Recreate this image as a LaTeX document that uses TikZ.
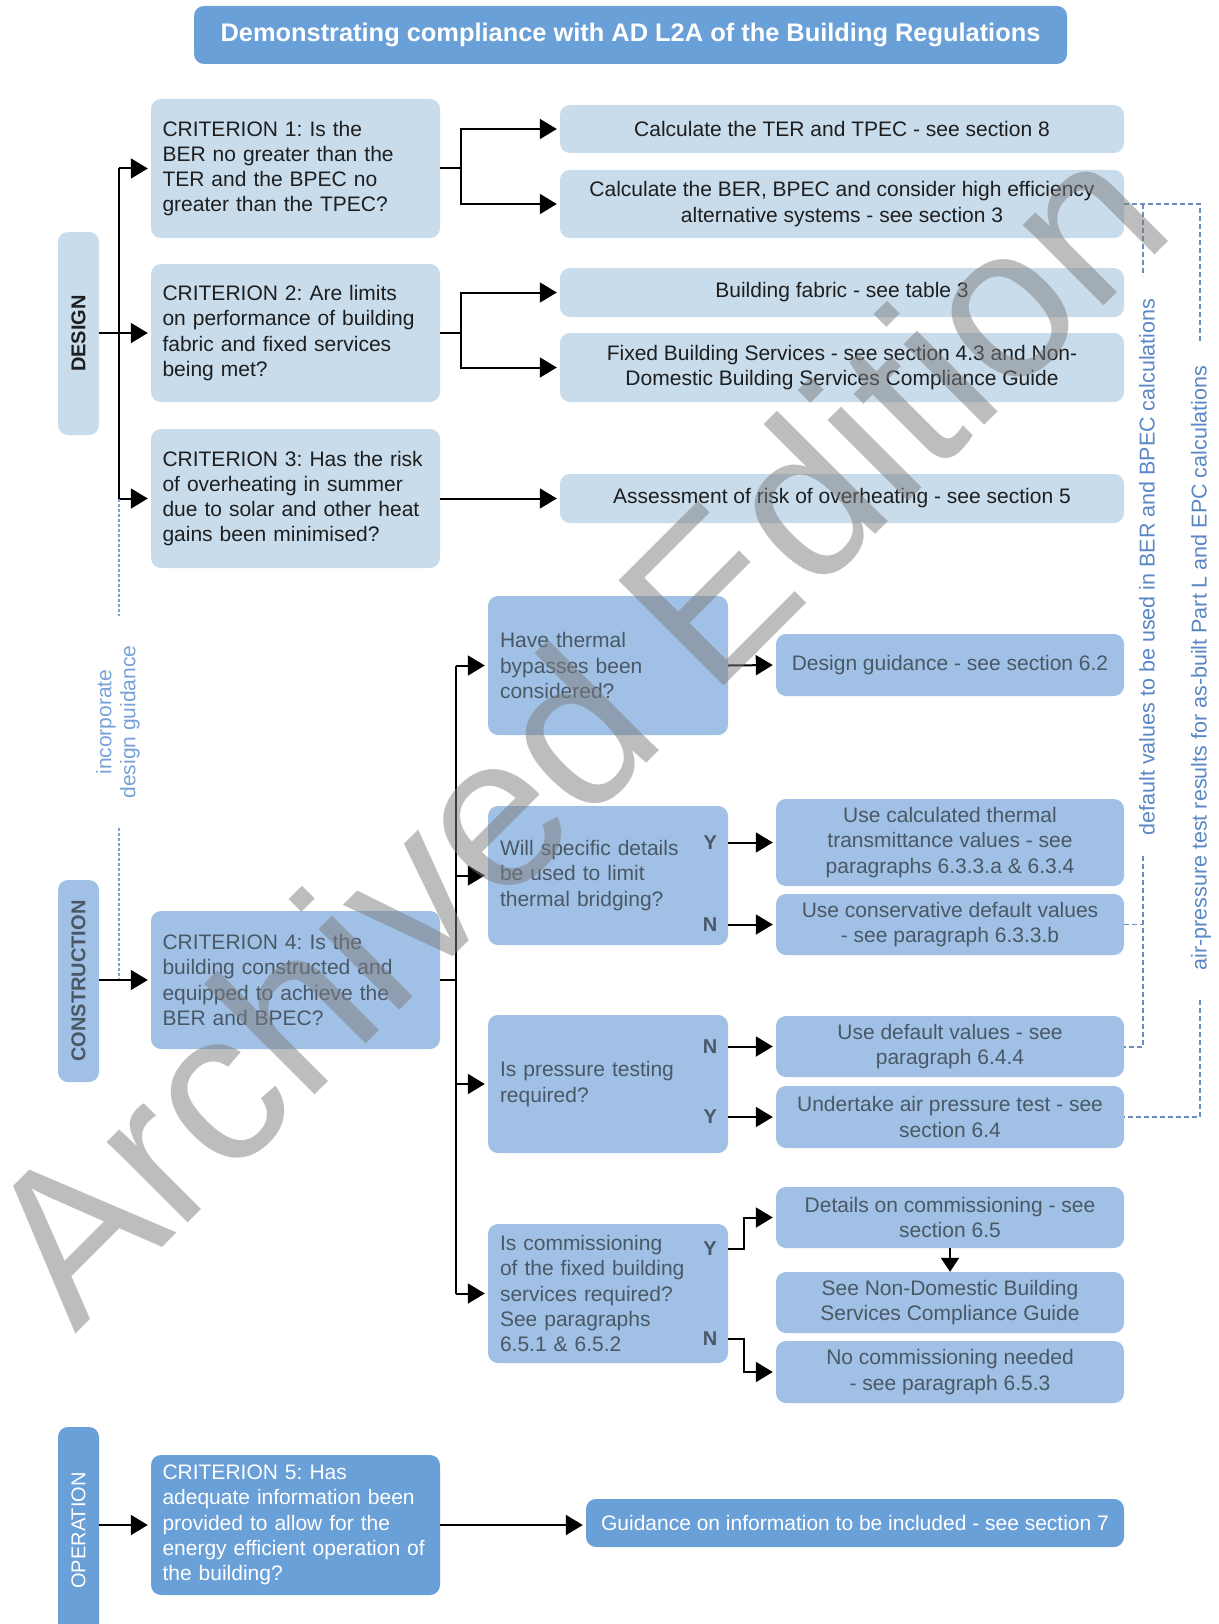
\documentclass[tikz,border=0pt]{standalone}
\usepackage{fontspec}
\usepackage{graphicx}
\setmainfont{Liberation Sans}
\frenchspacing
\usetikzlibrary{arrows.meta,calc}
\definecolor{lightbox}{RGB}{201,220,236}
\definecolor{midbox}{RGB}{160,193,229}
\definecolor{darkbox}{RGB}{106,160,216}
\definecolor{midtext}{RGB}{74,88,102}
\definecolor{darktxt}{RGB}{30,30,30}
\definecolor{dashblue}{RGB}{110,140,190}
\definecolor{sidetext}{RGB}{90,135,198}
\definecolor{sidetextb}{RGB}{120,162,215}
\definecolor{wmgray}{RGB}{125,125,125}
\newcommand{\bx}[7]{\node[#1, minimum width={#5-#3}, minimum height={#6-#4}] (#2) at ({(#3+#5)/2},{(#4+#6)/2}) {#7};}
\begin{document}
\begin{tikzpicture}[x=1pt,y=-1pt,
  box/.style={rounded corners=10pt, inner sep=0pt, align=center, font=\fontsize{21}{25.2}\selectfont},
  lt/.style={box, fill=lightbox, text=darktxt},
  md/.style={box, fill=midbox, text=midtext},
  dk/.style={box, fill=darkbox, text=white},
  crit/.style={align=left, text width=266pt, inner xsep=11.5pt},
  cons/.style={align=left, text width=216pt, inner xsep=12pt},
  lab/.style={rounded corners=10pt, inner sep=0pt, font=\fontsize{20}{20}\selectfont},
  arr/.style={line width=2pt, -{Triangle[length=17pt,width=20pt]}, shorten >=3pt},
  ln/.style={line width=2pt},
  yn/.style={font=\fontsize{20}{20}\selectfont\bfseries, text=midtext, inner sep=0pt},
  dsh/.style={draw=dashblue, line width=1.6pt, dash pattern=on 5pt off 3pt},
  dots/.style={draw=sidetextb, line width=1.8pt, dash pattern=on 3pt off 2pt},
  side/.style={font=\fontsize{21.5}{24}\selectfont, text=sidetext, rotate=90, inner sep=0pt},
]
\fill[white] (0,0) rectangle (1218,1624);
\useasboundingbox (0,0) rectangle (1218,1624);

% title
\bx{dk,font=\fontsize{25.4}{30}\selectfont\bfseries}{title}{194}{6}{1067}{64}{Demonstrating compliance with AD L2A of the Building Regulations}

% phase labels
\bx{lab,fill=lightbox,text=darktxt}{design}{58}{232}{99}{435}{\rotatebox{90}{\bfseries DESIGN}}
\bx{lab,fill=midbox,text=midtext}{construction}{58}{880}{99}{1082}{\rotatebox{90}{\bfseries CONSTRUCTION}}
\bx{lab,fill=darkbox,text=white}{operation}{58}{1427}{99}{1634}{\rotatebox{90}{OPERATION}}

% criteria
\bx{lt,crit}{crit1}{151}{99}{440}{238}{CRITERION 1: Is the\\BER no greater than the\\TER and the BPEC no\\greater than the TPEC?}
\bx{lt,crit}{crit2}{151}{264}{440}{402}{CRITERION 2: Are limits\\on performance of building\\fabric and fixed services\\being met?}
\bx{lt,crit}{crit3}{151}{429}{440}{568}{CRITERION 3: Has the risk\\of overheating in summer\\due to solar and other heat\\gains been minimised?}
\bx{md,crit}{crit4}{151}{911}{440}{1049}{CRITERION 4: Is the\\building constructed and\\equipped to achieve the\\BER and BPEC?}
\bx{dk,crit}{crit5}{151}{1455}{440}{1595}{CRITERION 5: Has\\adequate information been\\provided to allow for the\\energy efficient operation of\\the building?}

% design outcomes
\bx{lt}{ter}{560}{105}{1124}{153}{Calculate the TER and TPEC - see section 8}
\bx{lt}{ber}{560}{170}{1124}{238}{Calculate the BER, BPEC and consider high efficiency\\alternative systems - see section 3}
\bx{lt}{fabric}{560}{268}{1124}{317}{Building fabric - see table 3}
\bx{lt}{fixed}{560}{333}{1124}{402}{Fixed Building Services - see section 4.3 and Non-\\Domestic Building Services Compliance Guide}
\bx{lt}{assess}{560}{474}{1124}{523}{Assessment of risk of overheating - see section 5}

% construction questions
\bx{md,cons}{bypass}{488}{596}{728}{735}{Have thermal\\bypasses been\\considered?}
\bx{md,cons}{bridging}{488}{806}{728}{945}{Will specific details\\be used to limit\\thermal bridging?}
\bx{md,cons}{pressure}{488}{1015}{728}{1153}{Is pressure testing\\required?}
\bx{md,cons}{comm}{488}{1224}{728}{1363}{Is commissioning\\of the fixed building\\services required?\\See paragraphs\\6.5.1 \& 6.5.2}

% construction outcomes
\bx{md}{dg}{776}{634}{1124}{696}{Design guidance - see section 6.2}
\bx{md}{calc}{776}{799}{1124}{886}{Use calculated thermal\\transmittance values - see\\paragraphs 6.3.3.a \& 6.3.4}
\bx{md}{conserv}{776}{894}{1124}{955}{Use conservative default values\\- see paragraph 6.3.3.b}
\bx{md}{default}{776}{1016}{1124}{1077}{Use default values - see\\paragraph 6.4.4}
\bx{md}{undertake}{776}{1086}{1124}{1148}{Undertake air pressure test - see\\section 6.4}
\bx{md}{details}{776}{1187}{1124}{1248}{Details on commissioning - see\\section 6.5}
\bx{md}{seendb}{776}{1272}{1124}{1333}{See Non-Domestic Building\\Services Compliance Guide}
\bx{md}{nocomm}{776}{1341}{1124}{1403}{No commissioning needed\\- see paragraph 6.5.3}

% operation outcome
\bx{dk}{guidance}{586}{1499}{1124}{1547}{Guidance on information to be included - see section 7}

% design connectors
\coordinate (dx) at (119,0);
\draw[ln] (dx |- crit1.west) -- (dx |- crit3.west);
\draw[arr] (design.east |- crit2.west) -- (crit2.west);
\draw[arr] (dx |- crit1.west) -- (crit1.west);
\draw[arr] (dx |- crit3.west) -- (crit3.west);

\draw[ln] (crit1.east) -- ++(21,0) coordinate (c1j);
\draw[arr] (c1j) |- (ter.west);
\draw[arr] (c1j) |- (ber.west);
\draw[ln] (crit2.east) -- ++(21,0) coordinate (c2j);
\draw[arr] (c2j) |- (fabric.west);
\draw[arr] (c2j) |- (fixed.west);
\draw[arr] (crit3.east) -- (assess.west |- crit3.east);

% incorporate design guidance
\coordinate (dg1) at (119,616);
\coordinate (dg2) at (119,828);
\draw[dots] (dx |- crit3.west) -- (dg1);
\node[side, text=sidetextb, align=center, font=\fontsize{21}{24}\selectfont] (incorp) at (118,722) {incorporate\\design guidance};
\draw[dots] (dg2) -- (dx |- crit4.west);
\draw[arr] (construction.east |- crit4.west) -- (crit4.west);

% construction connectors
\draw[ln] (crit4.east) -- ++(16,0) coordinate (c4j);
\draw[ln] (c4j |- bypass.west) -- (c4j |- comm.west);
\draw[arr] (c4j |- bypass.west) -- (bypass.west);
\draw[arr] (c4j |- bridging.west) -- (bridging.west);
\draw[arr] (c4j |- pressure.west) -- (pressure.west);
\draw[arr] (c4j |- comm.west) -- (comm.west);

\draw[arr] (bypass.east) -- (dg.west);

\node[yn] (y1) at ($(bridging.east |- calc.west)+(-18,0)$) {Y};
\node[yn] (n1) at ($(bridging.east |- conserv.west)+(-18,0)$) {N};
\draw[arr] (bridging.east |- calc.west) -- (calc.west);
\draw[arr] (bridging.east |- conserv.west) -- (conserv.west);

\node[yn] (n2) at ($(pressure.east |- default.west)+(-18,0)$) {N};
\node[yn] (y2) at ($(pressure.east |- undertake.west)+(-18,0)$) {Y};
\draw[arr] (pressure.east |- default.west) -- (default.west);
\draw[arr] (pressure.east |- undertake.west) -- (undertake.west);

\coordinate (cY) at (728,1249);
\coordinate (cN) at (728,1339);
\node[yn] (y3) at ($(cY)+(-18,0)$) {Y};
\node[yn] (n3) at ($(cN)+(-18,0)$) {N};
\draw[arr] (cY) -- ++(16,0) |- (details.west);
\draw[arr] (cN) -- ++(16,0) |- (nocomm.west);
\draw[line width=2pt, -{Triangle[length=14pt,width=18pt]}] (details.south) -- (seendb.north);

% operation connectors
\draw[arr] (operation.east |- crit5.west) -- (crit5.west);
\draw[arr] (crit5.east) -- (guidance.west |- crit5.east);

% dashed brackets
\coordinate (otop) at (1200,204);
\coordinate (itop) at (1143,204);
\coordinate (ia) at (1143,276);
\coordinate (ib) at (1143,856);
\coordinate (ic) at (1143,1047);
\coordinate (oa) at (1200,342);
\coordinate (ob) at (1200,1000);
\coordinate (oc) at (1200,1117);
\draw[dsh] (ber.east) -- (otop) -- (oa);
\draw[dsh] (itop) -- (ia);
\node[side] (defv) at (1147,567) {default values to be used in BER and BPEC calculations};
\draw[dsh] (ib) -- (ic) -- (default.east |- ic);
\draw[dsh] (conserv.east) -- (ib |- conserv.east);
\node[side] (airp) at (1201,668) {air-pressure test results for as-built Part L and EPC calculations};
\draw[dsh] (ob) -- (oc) -- (undertake.east |- oc);

% watermark
\node[rotate=45, anchor=base west, inner sep=0pt, font=\fontsize{216}{216}\selectfont, text=wmgray, opacity=0.5] (wm) at (75,1335) {Archived Edition};
\end{tikzpicture}
\end{document}
